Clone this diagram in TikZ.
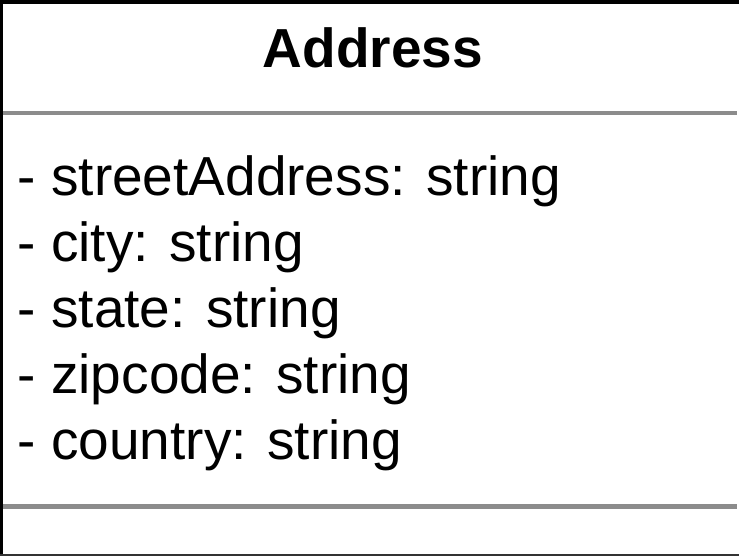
\documentclass[tikz,border=0pt]{standalone}
\usepackage{fontspec}
\setmainfont{Liberation Sans}
\usetikzlibrary{positioning}

\tikzset{
    classname/.style={anchor=base, font=\fontsize{55}{66}\selectfont\bfseries},
    attr/.style={anchor=base west, inner sep=0pt, font=\fontsize{55}{66}\selectfont},
    sepline/.style={line width=4.5pt, draw=black!45},
    border/.style={line width=3.5pt, draw=black},
}

\begin{document}
\begin{tikzpicture}[x=1pt, y=1pt]
    \useasboundingbox (0,0) rectangle (739,-556);

    % frame (cut off at the right)
    \coordinate (tl) at (0,-2);
    \coordinate (tr) at (739,-2);
    \coordinate (bl) at (1.6,-556);
    \draw[border] (tr) -- (tl -| bl) -- (bl);
    \coordinate (bottom-l) at (0,-555.2);
    \coordinate (bottom-r) at (739,-555.2);
    \draw[line width=1.5pt, draw=black!80] (bottom-l) -- (bottom-r);

    % class name
    \node[classname] (name) at (373,-68) {Address};

    % attributes
    \node[attr] (street) at (17.5,-195.5) {- streetAddress: string};
    \node[below=66 of street.base west, attr] (city) {- city: string};
    \node[below=66 of city.base west, attr] (state) {- state: string};
    \node[below=66 of state.base west, attr] (zip) {- zipcode: string};
    \node[below=66 of zip.base west, attr] (country) {- country: string};

    % compartment lines
    \coordinate (sep1-l) at (3,-113);
    \coordinate (sep1-r) at (737,-113);
    \coordinate (sep2-l) at (3,-506.5);
    \coordinate (sep2-r) at (737,-506.5);
    \draw[sepline] (sep1-l) -- (sep1-r);
    \draw[sepline] (sep2-l) -- (sep2-r);

\end{tikzpicture}
\end{document}
